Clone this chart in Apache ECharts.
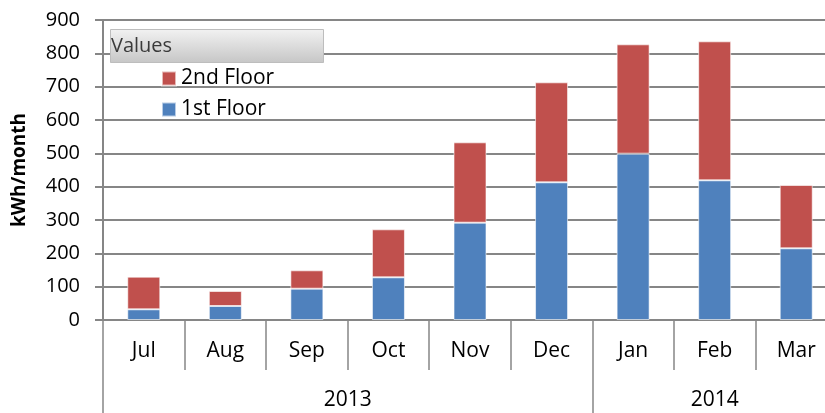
<!DOCTYPE html>
<html>
<head>
<meta charset="utf-8">
<script src="https://cdn.jsdelivr.net/npm/echarts@6/dist/echarts.min.js"></script>
<style>
  html, body { margin: 0; padding: 0; background: #fff; }
  #chart { width: 825px; height: 413px; }
</style>
</head>
<body>
<div id="chart"></div>
<script>
// months and two-level year grouping
var months = ['Jul', 'Aug', 'Sep', 'Oct', 'Nov', 'Dec', 'Jan', 'Feb', 'Mar'];
var yearLabels = ['2013', '2014'];
var yearLabelPos = [3, 7.5];     // centre of each year group, in category units
var yearBounds = [0, 6, 9];      // group edges, in category units

// kWh per month
var firstFloor = [32, 42, 94, 128, 292, 413, 499, 419, 215];
var secondFloor = [98, 45, 55, 144, 241, 300, 328, 417, 190];

var yTicks = [0, 100, 200, 300, 400, 500, 600, 700, 800, 900];

var font = '"Open Sans", sans-serif';
var grey = '#868686';

var chart = echarts.init(document.getElementById('chart'));

var option = {
    animation: false
    , title: {
        text: 'Values'
        , left: 110
        , top: 29
        , padding: [7, 152, 7, 1]
        , backgroundColor: new echarts.graphic.LinearGradient(0, 0, 0, 1, [
            { offset: 0, color: '#f2f2f2' }
            , { offset: 1, color: '#c6c6c6' }
        ])
        , borderColor: '#bdbdbd'
        , borderWidth: 1
        , textStyle: { fontFamily: font, fontSize: 20, lineHeight: 20, fontWeight: 'normal', color: '#3a3a3a' }
    }
    , legend: {
        orient: 'vertical'
        , left: 161
        , top: 68
        , padding: 0
        , icon: 'rect'
        , itemWidth: 14
        , itemHeight: 14
        , itemGap: 10
        , data: ['2nd Floor', '1st Floor']
        , textStyle: { fontFamily: font, fontSize: 21, color: '#000', lineHeight: 21 }
    }
    // the last category runs past the right edge of the picture
    , grid: { left: 103, width: 734, top: 20, bottom: 93, outerBoundsMode: 'none' }
    , xAxis: [{
        type: 'category'
        , data: months
        , position: 'bottom'
        , axisLine: { lineStyle: { color: grey, width: 2 } }
        , axisTick: { show: true, length: 50, lineStyle: { color: grey, width: 1.5 } }
        , axisLabel: { margin: 21, fontFamily: font, fontSize: 21, color: '#000' }
    }, {
        type: 'value'
        , min: 0
        , max: 9
        , position: 'bottom'
        , axisLine: { show: false }
        , splitLine: { show: false }
        , axisTick: { show: true, length: 93, customValues: yearBounds, lineStyle: { color: grey, width: 1.5 } }
        , axisLabel: {
            margin: 70
            , customValues: yearLabelPos
            , fontFamily: font
            , fontSize: 21
            , color: '#000'
            , formatter: function (v) {
                return yearLabels[yearLabelPos.indexOf(v)];
            }
        }
    }]
    , yAxis: {
        type: 'value'
        , min: yTicks[0]
        , max: yTicks[yTicks.length - 1]
        , interval: 100
        , name: 'kWh/month'
        , nameLocation: 'middle'
        , nameGap: 74
        , nameTextStyle: { fontFamily: font, fontSize: 19, fontWeight: 'bold', color: '#000' }
        , axisLine: { show: true, lineStyle: { color: grey, width: 2 } }
        , axisTick: { show: true, length: 8, lineStyle: { color: grey, width: 2 } }
        , axisLabel: { margin: 23, fontFamily: font, fontSize: 20, color: '#000' }
        , splitLine: { lineStyle: { color: grey, width: 2 } }
    }
    , series: [{
        name: '1st Floor'
        , type: 'bar'
        , stack: 'kwh'
        , barWidth: 33
        , data: firstFloor
        , itemStyle: { color: '#4F81BD', borderColor: 'rgba(255,255,255,0.6)', borderWidth: 1 }
    }, {
        name: '2nd Floor'
        , type: 'bar'
        , stack: 'kwh'
        , barWidth: 33
        , data: secondFloor
        , itemStyle: { color: '#C0504D', borderColor: 'rgba(255,255,255,0.6)', borderWidth: 1 }
    }]
};

chart.setOption(option);
</script>
</body>
</html>
